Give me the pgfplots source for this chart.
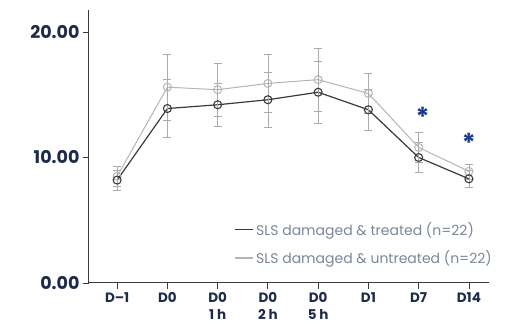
\documentclass[border=0pt]{standalone}
\usepackage{pgfplots}
\pgfplotsset{compat=1.18}
\usepackage{fontspec}
\setmainfont{Poppins}
\definecolor{navy}{HTML}{1E2A4A}
\definecolor{star}{HTML}{1A3A8A}
\definecolor{legtxt}{HTML}{7A8699}
\definecolor{darkser}{HTML}{3A3A3A}
\definecolor{lightser}{HTML}{B4B4B4}
\definecolor{errc}{HTML}{ABABAB}
\begin{document}
\begin{tikzpicture}[x=1pt,y=1pt]
\path (-89pt,-46pt) rectangle (423pt,283pt);
\begin{axis}[
  at={(0pt,0pt)}, anchor=south west,
  scale only axis, width=400pt, height=273pt,
  xmin=-0.56, xmax=7.4, ymin=0, ymax=21.75,
  axis x line=bottom, axis y line=left,
  axis line style={darkser, line width=1pt, -},
  xtick={0,...,7},
  xticklabels={D--1,D0,{D0\\1 h},{D0\\2 h},{D0\\5 h},D1,D7,D14},
  xticklabel style={align=center, font=\fontsize{13.5}{17}\selectfont\bfseries, text=navy},
  ytick={0,10,20},
  yticklabel style={font=\fontsize{17.5}{18}\selectfont\bfseries, text=navy},
  /pgf/number format/assume math mode=true,
  /pgf/number format/.cd, fixed, fixed zerofill, precision=2,
  /pgfplots/.cd,
  tick style={darkser, line width=0.8pt},
  major tick length=6pt,
  xtick align=outside, ytick align=outside,
  legend style={draw=none, fill=none, at={(1.02,0.05)}, anchor=south east,
    font=\fontsize{14}{16}\selectfont, text=legtxt, row sep=10pt},
  legend cell align=left,
  legend image code/.code={\draw[#1, line width=1.3pt] (-3pt,0pt) -- (15pt,0pt);},
  clip=false,
]
\addplot[forget plot, lightser, line width=1pt, mark=o, mark size=4pt,
  mark options={fill=white, solid, line width=1pt},
  error bars/.cd, y dir=both, y explicit,
  error bar style={errc, line width=0.7pt}, error mark options={rotate=90, mark size=4pt, errc}]
  coordinates {
  (0,8.5) +- (0,0.8)
  (1,15.6) +- (0,2.6)
  (2,15.4) +- (0,2.1)
  (3,15.9) +- (0,2.3)
  (4,16.2) +- (0,2.5)
  (5,15.1) +- (0,1.6)
  (6,10.8) +- (0,1.2)
  (7,8.9) +- (0,0.6)
  };
\addplot[forget plot, darkser, line width=1.2pt, mark=o, mark size=4pt,
  mark options={fill=white, solid, line width=1.1pt},
  error bars/.cd, y dir=both, y explicit,
  error bar style={errc, line width=0.7pt}, error mark options={rotate=90, mark size=4pt, errc}]
  coordinates {
  (0,8.2) +- (0,0.8)
  (1,13.9) +- (0,2.3)
  (2,14.2) +- (0,1.7)
  (3,14.6) +- (0,2.2)
  (4,15.2) +- (0,2.5)
  (5,13.8) +- (0,1.6)
  (6,10.0) +- (0,1.2)
  (7,8.3) +- (0,0.7)
  };
\addlegendimage{darkser}
\addlegendentry{SLS damaged \& treated (n=22)}
\addlegendimage{lightser}
\addlegendentry{SLS damaged \& untreated (n=22)}
\node[text=star, font=\fontsize{26}{26}\selectfont\bfseries] at (axis cs:6.08,13.2) {*};
\node[text=star, font=\fontsize{26}{26}\selectfont\bfseries] at (axis cs:7.0,11.2) {*};
\end{axis}
\end{tikzpicture}
\end{document}
